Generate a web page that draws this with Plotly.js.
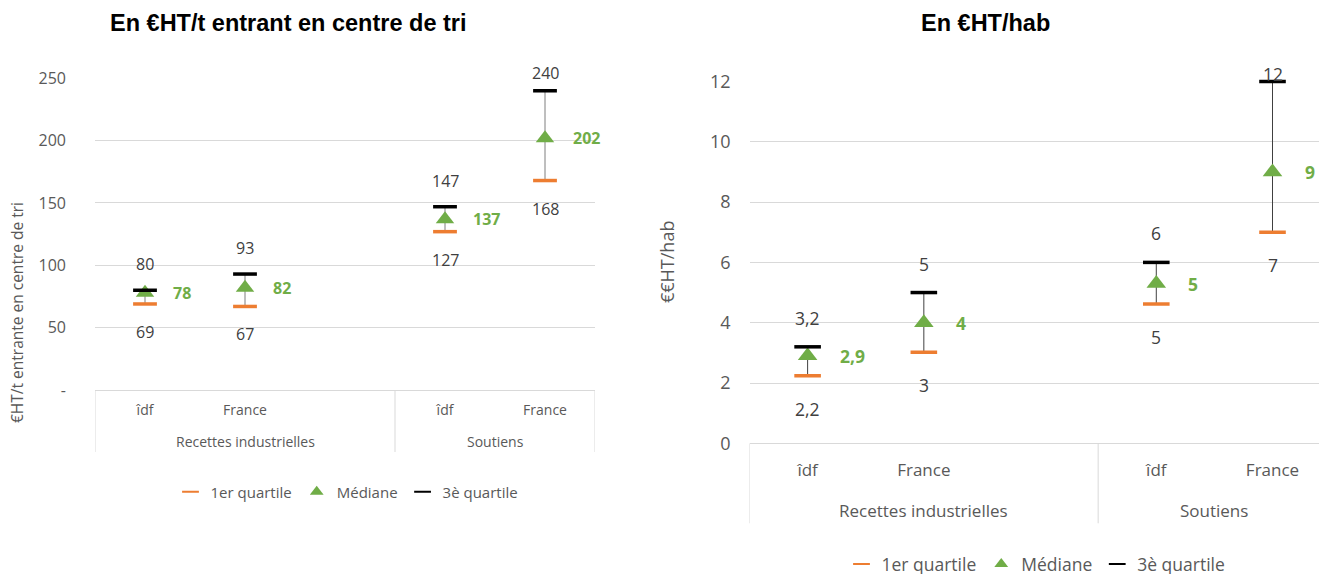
<!DOCTYPE html>
<html>
<head>
<meta charset="utf-8">
<script src="https://cdn.plot.ly/plotly-3.0.1.min.js"></script>
<style>html,body{margin:0;padding:0;background:#fff;overflow:hidden;width:1319px;height:574px}#chart{width:1319px;height:600px}</style>
</head>
<body>
<div id="chart"></div>
<script>
// ---- data ----
const groups = ["Recettes industrielles","Recettes industrielles","Recettes industrielles","Soutiens","Soutiens"];
const cats = ["îdf","France","","îdf","France"];
const seriesNames = ["1er quartile","Médiane","3è quartile"];

// Left: €HT/t entrant en centre de tri
const q1T = [69, 67, null, 127, 168];
const medT = [78, 82, null, 137, 202];
const q3T = [80, 93, null, 147, 240];
const q1TLabels = ["69","67","","127","168"];
const medTLabels = ["78","82","","137","202"];
const q3TLabels = ["80","93","","147","240"];
const yTickVals = [0,50,100,150,200,250];
const yTickText = ["-","50","100","150","200","250"];

// Right: €HT/hab
const q1H = [2.24, 3.02, null, 4.62, 7.0];
const medH = [2.9, 4.0, null, 5.3, 9.0];
const q3H = [3.2, 5.0, null, 6.0, 12.0];
const q1HLabels = ["2,2","3","","5","7"];
const medHLabels = ["2,9","4","","5","9"];
const q3HLabels = ["3,2","5","","6","12"];
const y2TickVals = [0,2,4,6,8,10,12];

// ---- style ----
const ORANGE = "#ED7D31", GREEN = "#70AD47", BLACK = "#000000";
const GRID = "#d9d9d9", TXT = "#595959", LBL = "#404040";
const FONT = "Open Sans, Noto Sans, sans-serif";
const TFONT = "Liberation Sans, Arial, sans-serif";
const W = 1319, H = 600;

const L = {left:95, right:595, top:78.3, bottom:390, range:[0,250], xEnd:4.5};
const R = {left:749.5, right:1319, top:81.5, bottom:443.3, range:[0,12], xEnd:4.4};

// category slots (index positions on the axis)
const xIdx = cats.map((c, i) => i);
const tickPos = xIdx.filter(i => cats[i] !== "");
const tickTxt = tickPos.map(i => cats[i]);
// group spans
const groupSpans = [];
groups.forEach((g, i) => {
  if (i === 0 || g !== groups[i-1]) groupSpans.push({name:g, first:i, last:i});
  else groupSpans[groupSpans.length-1].last = i;
});

function diff(a,b){ return a.map((v,i)=> (v==null||b[i]==null)?null:v-b[i]); }
function zeros(a){ return a.map(v=> v==null?null:0); }

function tracesFor(q1,med,q3,xa,ya,leg,opt){
  const common = {x:xIdx, xaxis:xa, yaxis:ya, mode:"markers", type:"scatter", cliponaxis:false, hoverinfo:"skip", legend:leg};
  return [
    Object.assign({}, common, {y:q1, showlegend:false, marker:{opacity:0,size:2},
      error_y:{type:"data", symmetric:false, array:diff(q3,q1), arrayminus:zeros(q1), width:0, thickness:opt.errThick, color:opt.errColor}}),
    Object.assign({}, common, {y:q1, name:seriesNames[0], marker:{symbol:"line-ew", size:opt.dash, color:ORANGE, line:{color:ORANGE,width:opt.dashW}}}),
    Object.assign({}, common, {y:med, name:seriesNames[1], marker:{symbol:"triangle-up", size:opt.tri, color:GREEN, line:{width:0}}}),
    Object.assign({}, common, {y:q3, name:seriesNames[2], marker:{symbol:"line-ew", size:opt.dash, color:BLACK, line:{color:BLACK,width:opt.dashW}}})
  ];
}

function pxOf(v, g){ return g.top + (g.range[1]-v)/(g.range[1]-g.range[0])*(g.bottom-g.top); }

function labelAnns(q1,med,q3,t1,tm,t3,xr,yr,g,opt){
  const out = [];
  for(let i=0;i<cats.length;i++){
    if(med[i]==null) continue;
    const p3 = pxOf(q3[i], g);
    const want = Math.max(p3 - opt.above, opt.topLimit);   // keep inside chart area
    out.push({xref:xr, yref:yr, x:xIdx[i], y:q3[i], text:t3[i], showarrow:false, yshift:p3-want,
      xanchor:"center", yanchor:"middle", font:{family:FONT,size:opt.lblSize,color:LBL}});
    out.push({xref:xr, yref:yr, x:xIdx[i], y:q1[i], text:t1[i], showarrow:false, yshift:-opt.below,
      xanchor:"center", yanchor:"middle", font:{family:FONT,size:opt.lblSize,color:LBL}});
    out.push({xref:xr, yref:yr, x:xIdx[i], y:med[i], text:"<b>"+tm[i]+"</b>", showarrow:false, xshift:opt.right,
      xanchor:"left", yanchor:"middle", font:{family:FONT,size:opt.lblSize,color:GREEN}});
  }
  return out;
}

function groupAnns(xr, g, opt){
  return groupSpans.map(s => ({xref:xr, yref:"paper", x:(s.first+s.last)/2, y:1-g.bottom/H, yshift:-opt.groupDy,
    text:s.name, showarrow:false, xanchor:"center", yanchor:"middle", font:{family:FONT,size:opt.catSize,color:TXT}}));
}
function dividerShapes(xr, g, opt){
  const bnd = groupSpans.map(s => s.first - 0.5).concat([groupSpans[groupSpans.length-1].last + 0.5]);
  return bnd.filter(b => b <= g.xEnd).map(b => ({type:"line", xref:xr, yref:"paper", x0:b, x1:b,
    y0:1-g.bottom/H, y1:1-(g.bottom+opt.divLen)/H, line:{color:GRID, width:1}}));
}

const optL = {dash:17, dashW:3.5, tri:16, errThick:1, errColor:"#7f7f7f", above:26, below:28, right:26, topLimit:73,
  lblSize:16, catSize:14, groupDy:51, divLen:62};
const optR = {dash:19, dashW:3.5, tri:17, errThick:1, errColor:"#404040", above:29, below:33, right:30, topLimit:74,
  lblSize:17.5, catSize:17, groupDy:67, divLen:80};

const data = [].concat(
  tracesFor(q1T,medT,q3T,"x","y","legend",optL),
  tracesFor(q1H,medH,q3H,"x2","y2","legend2",optR)
);

function xaxisFor(g, size, standoff, anchor){
  return {type:"linear", domain:[g.left/W, g.right/W], anchor:anchor, range:[-0.5, g.xEnd],
    tickmode:"array", tickvals:tickPos, ticktext:tickTxt, ticklabelstandoff:standoff,
    showline:true, linecolor:GRID, linewidth:1, showgrid:false, zeroline:false, ticks:"",
    tickfont:{family:FONT, size:size, color:TXT}, fixedrange:true};
}
function yaxisFor(g, vals, text, size, standoff, anchor){
  return {domain:[1-g.bottom/H, 1-g.top/H], anchor:anchor, range:g.range, tickmode:"array", tickvals:vals, ticktext:text,
    showgrid:true, gridcolor:GRID, gridwidth:1, zeroline:false, showline:false, ticks:"",
    ticklabelstandoff:standoff, tickfont:{family:FONT, size:size, color:TXT}, fixedrange:true};
}

const annotations = [].concat(
  labelAnns(q1T,medT,q3T,q1TLabels,medTLabels,q3TLabels,"x","y",L,optL),
  labelAnns(q1H,medH,q3H,q1HLabels,medHLabels,q3HLabels,"x2","y2",R,optR),
  groupAnns("x", L, optL),
  groupAnns("x2", R, optR),
  [
    {xref:"paper", yref:"paper", x:288/W, y:1-23/H, text:"<b>En €HT/t entrant en centre de tri</b>", showarrow:false,
      xanchor:"center", yanchor:"middle", font:{family:TFONT, size:23.5, color:"#000"}},
    {xref:"paper", yref:"paper", x:986/W, y:1-23/H, text:"<b>En €HT/hab</b>", showarrow:false,
      xanchor:"center", yanchor:"middle", font:{family:TFONT, size:23.5, color:"#000"}},
    {xref:"paper", yref:"paper", x:17/W, y:1-313/H, text:"€HT/t entrante en centre de tri", showarrow:false, textangle:-90,
      xanchor:"center", yanchor:"middle", font:{family:FONT, size:15.5, color:TXT}},
    {xref:"paper", yref:"paper", x:667/W, y:1-262/H, text:"€€HT/hab", showarrow:false, textangle:-90,
      xanchor:"center", yanchor:"middle", font:{family:FONT, size:18, color:TXT}}
  ]
);

const shapes = [].concat(dividerShapes("x", L, optL), dividerShapes("x2", R, optR));

const layout = {
  width:W, height:H, margin:{l:0,r:0,t:0,b:0}, paper_bgcolor:"#fff", plot_bgcolor:"#fff",
  font:{family:FONT, color:TXT},
  xaxis: xaxisFor(L, 14, 7, "y"),
  yaxis: yaxisFor(L, yTickVals, yTickText, 16, 28, "x"),
  xaxis2: xaxisFor(R, 17, 11, "y2"),
  yaxis2: yaxisFor(R, y2TickVals, y2TickVals.map(String), 18, 18, "x2"),
  legend:{orientation:"h", x:347/W, xanchor:"center", y:1-492/H, yanchor:"middle", font:{family:FONT,size:15,color:TXT},
    itemsizing:"constant", bgcolor:"rgba(0,0,0,0)", traceorder:"normal"},
  legend2:{orientation:"h", x:1036/W, xanchor:"center", y:1-564/H, yanchor:"middle", font:{family:FONT,size:17.5,color:TXT},
    itemsizing:"constant", bgcolor:"rgba(0,0,0,0)", traceorder:"normal"},
  annotations:annotations,
  shapes:shapes,
  showlegend:true
};

Plotly.newPlot("chart", data, layout, {displayModeBar:false, staticPlot:true});
</script>
</body>
</html>
